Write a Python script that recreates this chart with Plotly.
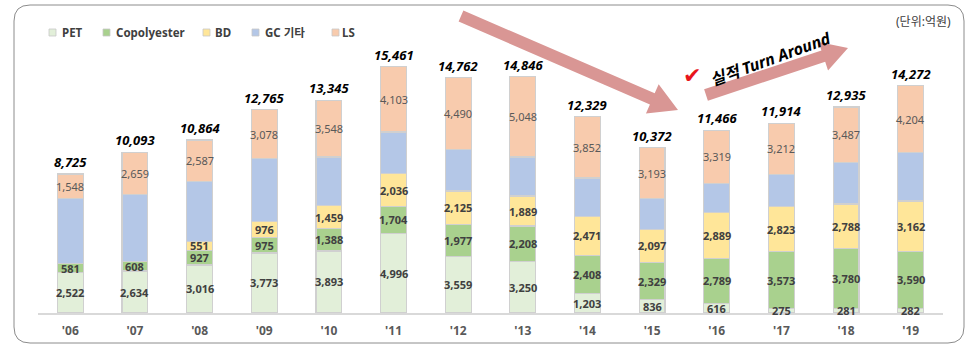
import math
import plotly.graph_objects as go

years = ["'06", "'07", "'08", "'09", "'10", "'11", "'12", "'13", "'14", "'15", "'16", "'17", "'18", "'19"]
pet = [2522, 2634, 3016, 3773, 3893, 4996, 3559, 3250, 1203, 836, 616, 275, 281, 282]
copolyester = [581, 608, 927, 975, 1388, 1704, 1977, 2208, 2408, 2329, 2789, 3573, 3780, 3590]
bd = [0, 0, 551, 976, 1459, 2036, 2125, 1889, 2471, 2097, 2889, 2823, 2788, 3162]
gc_other = [4074, 4192, 3783, 3963, 3057, 2622, 2611, 2451, 2395, 1917, 1853, 2031, 2599, 3034]
ls = [1548, 2659, 2587, 3078, 3548, 4103, 4490, 5048, 3852, 3193, 3319, 3212, 3487, 4204]
totals = [8725, 10093, 10864, 12765, 13345, 15461, 14762, 14846, 12329, 10372, 11466, 11914, 12935, 14272]

series = [
    ("PET", pet, "#e2efd9", True),
    ("Copolyester", copolyester, "#a9d18e", True),
    ("BD", bd, "#ffe699", True),
    ("GC 기타", gc_other, "#b4c7e7", None),
    ("LS", ls, "#f8cbad", False),
]

FONT = "Noto Sans, Noto Sans CJK KR, sans-serif"
W, H = 970, 352
ML, MR, MT, MB = 38, 27, 20, 39
PW, PH = W - ML - MR, H - MT - MB


def px(x):
    return (x - ML) / PW


def py(y):
    return (H - MB - y) / PH


fig = go.Figure()
base = [0] * len(years)
label_anns = []
for name, vals, color, bold in series:
    fig.add_trace(go.Bar(
        x=years, y=vals, name=name, marker=dict(color=color, line=dict(color="#d0d0d0", width=1.2)),
        showlegend=False, hoverinfo="skip",
    ))
    if bold is not None:
        for yr, b, v in zip(years, base, vals):
            if v > 0:
                label_anns.append(dict(
                    x=yr, y=b + v / 2, text=(f"<b>{v:,}</b>" if bold else f"{v:,}"), showarrow=False,
                    xanchor="center", yanchor="middle",
                    font=dict(family=FONT, size=11, color="#404040" if bold else "#595959")))
    base = [b + v for b, v in zip(base, vals)]

for a in label_anns:
    fig.add_annotation(**a)

for yr, t in zip(years, totals):
    fig.add_annotation(x=yr, y=t, text=f"<b><i>{t:,}</i></b>", showarrow=False, yanchor="bottom",
                       yshift=1, font=dict(family=FONT, size=13, color="#000000"))

shapes = []
# rounded frame
x0, y0, x1, y1, r = 14, 5, 964, 343, 16
path = (f"M {px(x0 + r)},{py(y0)} L {px(x1 - r)},{py(y0)} Q {px(x1)},{py(y0)} {px(x1)},{py(y0 + r)} "
        f"L {px(x1)},{py(y1 - r)} Q {px(x1)},{py(y1)} {px(x1 - r)},{py(y1)} "
        f"L {px(x0 + r)},{py(y1)} Q {px(x0)},{py(y1)} {px(x0)},{py(y1 - r)} "
        f"L {px(x0)},{py(y0 + r)} Q {px(x0)},{py(y0)} {px(x0 + r)},{py(y0)} Z")
shapes.append(dict(type="path", xref="paper", yref="paper", path=path,
                   line=dict(color="#8c8c8c", width=1), layer="below"))


def arrow(xa, ya, xb, yb, sw, hw, hl):
    dx, dy = xb - xa, yb - ya
    L = math.hypot(dx, dy)
    ux, uy = dx / L, dy / L
    nx, ny = -uy, ux
    bx, by = xb - ux * hl, yb - uy * hl
    pts = [
        (xa + nx * sw / 2, ya + ny * sw / 2),
        (bx + nx * sw / 2, by + ny * sw / 2),
        (bx + nx * hw / 2, by + ny * hw / 2),
        (xb, yb),
        (bx - nx * hw / 2, by - ny * hw / 2),
        (bx - nx * sw / 2, by - ny * sw / 2),
        (xa - nx * sw / 2, ya - ny * sw / 2),
    ]
    p = "M " + " L ".join(f"{px(a)},{py(b)}" for a, b in pts) + " Z"
    return dict(type="path", xref="paper", yref="paper", path=p, fillcolor="#d99694",
                line=dict(width=0))


shapes.append(arrow(461, 16, 678, 110, 12, 32, 28))
shapes.append(arrow(706, 95, 848, 48, 12, 30, 26))

# legend squares
leg = [(49, 60, "PET", "#e2efd9"), (103, 114, "Copolyester", "#a9d18e"), (203, 213, "BD", "#ffe699"),
       (252, 263, "GC 기타", "#b4c7e7"), (332, 340, "LS", "#f8cbad")]
for sx, tx, name, color in leg:
    shapes.append(dict(type="rect", xref="paper", yref="paper", x0=px(sx), x1=px(sx + 7),
                       y0=py(36), y1=py(29), fillcolor=color, line=dict(color="#c8c8c8", width=0.8)))
    fig.add_annotation(xref="paper", yref="paper", x=px(tx), y=py(32.5), text=f"<b>{name}</b>",
                       showarrow=False, xanchor="left", yanchor="middle",
                       font=dict(family=FONT, size=11.5, color="#404040"))

fig.add_annotation(xref="paper", yref="paper", x=px(953), y=py(21), text="(단위:억원)", showarrow=False,
                   xanchor="right", yanchor="middle", font=dict(family=FONT, size=12, color="#404040"))
fig.add_annotation(xref="paper", yref="paper", x=px(770), y=py(59), text="<b><i>실적 Turn Around</i></b>",
                   showarrow=False, textangle=-20, xanchor="center", yanchor="middle",
                   font=dict(family=FONT, size=16, color="#000000"))
fig.add_annotation(xref="paper", yref="paper", x=px(692), y=py(76), text="✔", showarrow=False,
                   xanchor="center", yanchor="middle",
                   font=dict(family="DejaVu Sans", size=22, color="#e8141c"))

fig.update_layout(
    width=W, height=H, margin=dict(l=ML, r=MR, t=MT, b=MB),
    barmode="stack", bargap=0.6,
    paper_bgcolor="white", plot_bgcolor="rgba(0,0,0,0)",
    shapes=shapes,
    xaxis=dict(type="category", range=[-0.5, 13.5], showline=True, linecolor="#d9d9d9", linewidth=2,
               ticks="", showgrid=False, ticklabelstandoff=6,
               tickfont=dict(family=FONT, size=12, color="#595959", weight="bold")),
    yaxis=dict(range=[0, PH / 0.01593], visible=False, showgrid=False),
)

fig.write_html("out.html")
